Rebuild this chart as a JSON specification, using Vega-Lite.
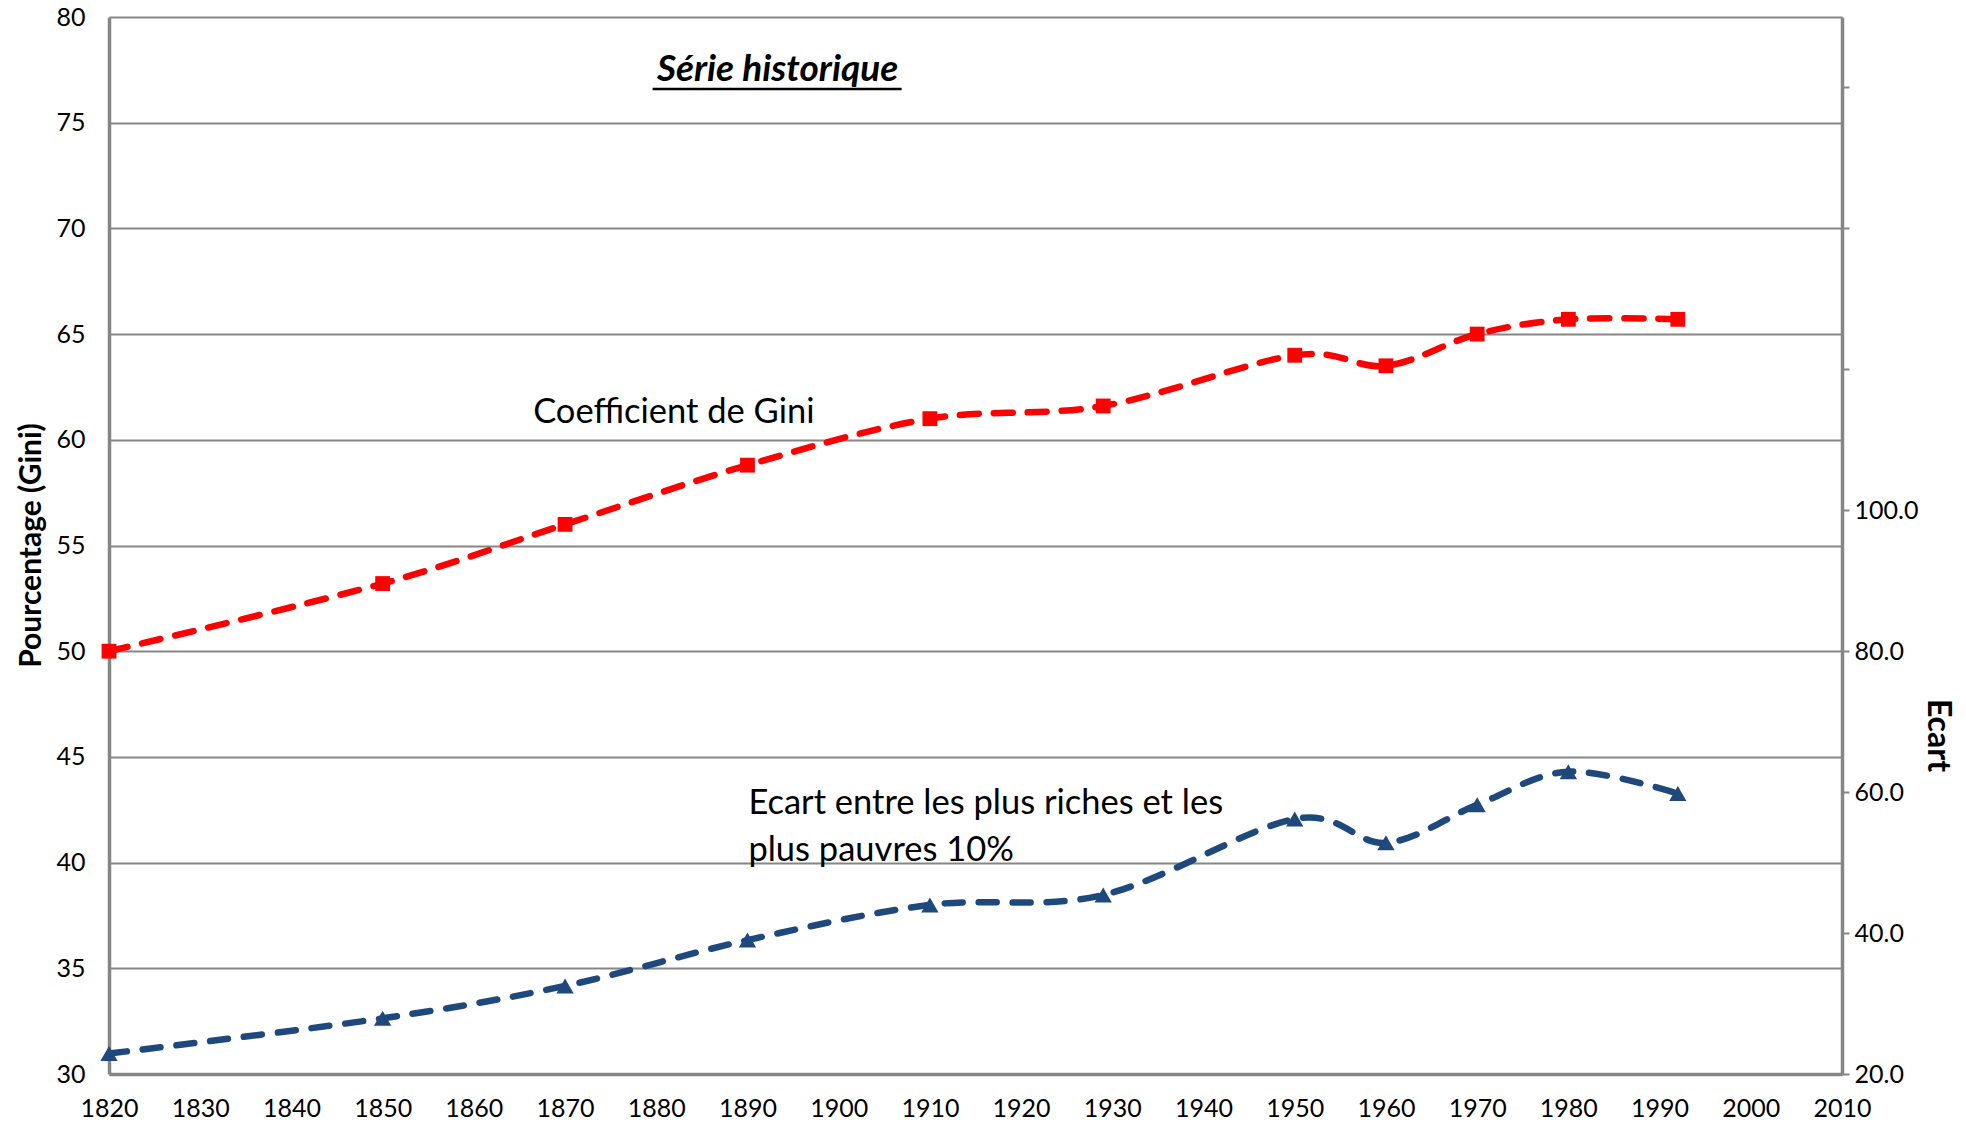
{
  "$schema": "https://vega.github.io/schema/vega-lite/v6.json",
  "width": 1733,
  "height": 1057,
  "autosize": {"type": "none"},
  "padding": {"left": 109, "top": 17, "right": 124, "bottom": 50},
  "background": "white",
  "config": {
    "view": {"stroke": null},
    "font": "Lato",
    "axis": {"labelFont": "Lato", "titleFont": "Lato", "labelColor": "#000000", "titleColor": "#000000"},
    "axisLeft": {
      "grid": true,
      "gridColor": "#868686",
      "gridWidth": 2,
      "ticks": false,
      "domainColor": "#868686",
      "domainWidth": 3.5,
      "labelFontSize": 25,
      "labelPadding": 24,
      "labelOverlap": false,
      "labelFlush": false,
      "titleFontSize": 30,
      "titleFontWeight": "bold",
      "titleAngle": -90,
      "titleX": -78,
      "titleY": 528,
      "titleAlign": "center",
      "titleBaseline": "middle"
    },
    "axisRight": {
      "grid": false,
      "ticks": true,
      "tickSize": 7,
      "tickColor": "#868686",
      "tickWidth": 2,
      "domainColor": "#868686",
      "domainWidth": 3.5,
      "labelFontSize": 25,
      "labelPadding": 5,
      "labelOverlap": false,
      "labelFlush": false,
      "titleFontSize": 32,
      "titleFontWeight": "bold",
      "titleAngle": 90,
      "titleX": 95,
      "titleY": 718,
      "titleAlign": "center",
      "titleBaseline": "middle"
    }
  },
  "datasets": {
    "series": [
      {"year": 1820, "gini": 50.0, "ecart": 22.9},
      {"year": 1850, "gini": 53.2, "ecart": 27.9},
      {"year": 1870, "gini": 56.0, "ecart": 32.5},
      {"year": 1890, "gini": 58.8, "ecart": 39.0},
      {"year": 1910, "gini": 61.0, "ecart": 44.0},
      {"year": 1929, "gini": 61.6, "ecart": 45.4},
      {"year": 1950, "gini": 64.0, "ecart": 56.2},
      {"year": 1960, "gini": 63.5, "ecart": 52.8},
      {"year": 1970, "gini": 65.0, "ecart": 58.2},
      {"year": 1980, "gini": 65.7, "ecart": 62.9},
      {"year": 1992, "gini": 65.7, "ecart": 59.8}
    ],
    "labels": [
      {"year": 1893.3, "value": 76.95, "label": "Série historique", "kind": "title"},
      {"year": 1866.5, "value": 60.8, "label": "Coefficient de Gini", "kind": "gini"},
      {"year": 1890.1, "value": 42.3, "label": "Ecart entre les plus riches et les\nplus pauvres 10%", "kind": "ecart"}
    ],
    "underline": [{"year": 1879.6, "year2": 1906.9, "value": 76.6}]
  },
  "encoding": {
    "x": {
      "field": "year",
      "type": "quantitative",
      "scale": {"domain": [1820, 2010], "nice": false, "zero": false},
      "axis": {
        "values": [1820, 1830, 1840, 1850, 1860, 1870, 1880, 1890, 1900, 1910, 1920, 1930, 1940, 1950, 1960, 1970, 1980, 1990, 2000, 2010],
        "format": "d",
        "title": null,
        "grid": false,
        "ticks": false,
        "domainColor": "#868686",
        "domainWidth": 3.5,
        "labelFontSize": 25,
        "labelPadding": 22,
        "labelFlush": false,
        "labelOverlap": false
      }
    }
  },
  "layer": [
    {
      "layer": [
        {
          "data": {"name": "series"},
          "mark": {"type": "line", "color": "#FF0000", "strokeWidth": 6.5, "strokeDash": [19, 15], "strokeCap": "round", "interpolate": "cardinal"},
          "encoding": {
            "y": {"field": "gini", "type": "quantitative", "scale": {"domain": [30, 80], "nice": false, "zero": false}, "axis": {"title": "Pourcentage (Gini)", "orient": "left", "values": [30, 35, 40, 45, 50, 55, 60, 65, 70, 75, 80], "format": "d"}}
          }
        },
        {
          "data": {"name": "series"},
          "mark": {"type": "point", "shape": "square", "filled": true, "color": "#FF0000", "size": 220, "opacity": 1, "strokeWidth": 0},
          "encoding": {"y": {"field": "gini", "type": "quantitative", "axis": {"title": "Pourcentage (Gini)", "orient": "left", "values": [30, 35, 40, 45, 50, 55, 60, 65, 70, 75, 80], "format": "d"}}}
        },
        {
          "data": {"name": "labels"},
          "transform": [{"filter": "datum.kind == 'title'"}],
          "mark": {"type": "text", "font": "Lato", "fontSize": 37, "fontWeight": "bold", "fontStyle": "italic", "align": "center", "baseline": "alphabetic", "color": "#000000"},
          "encoding": {"y": {"field": "value", "type": "quantitative", "axis": {"title": "Pourcentage (Gini)", "orient": "left", "values": [30, 35, 40, 45, 50, 55, 60, 65, 70, 75, 80], "format": "d"}}, "text": {"field": "label"}}
        },
        {
          "data": {"name": "labels"},
          "transform": [{"filter": "datum.kind != 'title'"}],
          "mark": {"type": "text", "font": "Lato", "fontSize": 34.5, "align": "left", "baseline": "alphabetic", "color": "#000000", "lineBreak": "\n", "lineHeight": 46.7},
          "encoding": {"y": {"field": "value", "type": "quantitative", "axis": {"title": "Pourcentage (Gini)", "orient": "left", "values": [30, 35, 40, 45, 50, 55, 60, 65, 70, 75, 80], "format": "d"}}, "text": {"field": "label"}}
        },
        {
          "data": {"name": "underline"},
          "mark": {"type": "rule", "color": "#000000", "strokeWidth": 2.5},
          "encoding": {"x2": {"field": "year2"}, "y": {"field": "value", "type": "quantitative", "axis": {"title": "Pourcentage (Gini)", "orient": "left", "values": [30, 35, 40, 45, 50, 55, 60, 65, 70, 75, 80], "format": "d"}}}
        }
      ]
    },
    {
      "layer": [
        {
          "data": {"name": "series"},
          "mark": {"type": "line", "color": "#1F497D", "strokeWidth": 6.5, "strokeDash": [18, 16], "strokeCap": "round", "interpolate": "cardinal"},
          "encoding": {
            "y": {
              "field": "ecart",
              "type": "quantitative",
              "scale": {"domain": [20, 170], "nice": false, "zero": false},
              "axis": {"orient": "right", "title": "Ecart", "values": [20, 40, 60, 80, 100, 120, 140, 160], "labelExpr": "datum.value <= 100 ? format(datum.value, '.1f') : ''"}
            }
          }
        },
        {
          "data": {"name": "series"},
          "mark": {"type": "point", "shape": "triangle-up", "filled": true, "color": "#1F497D", "size": 300, "opacity": 1, "strokeWidth": 0},
          "encoding": {"y": {"field": "ecart", "type": "quantitative", "axis": {"orient": "right", "title": "Ecart", "values": [20, 40, 60, 80, 100, 120, 140, 160], "labelExpr": "datum.value <= 100 ? format(datum.value, '.1f') : ''"}}}
        }
      ]
    }
  ],
  "resolve": {"scale": {"y": "independent"}}
}
